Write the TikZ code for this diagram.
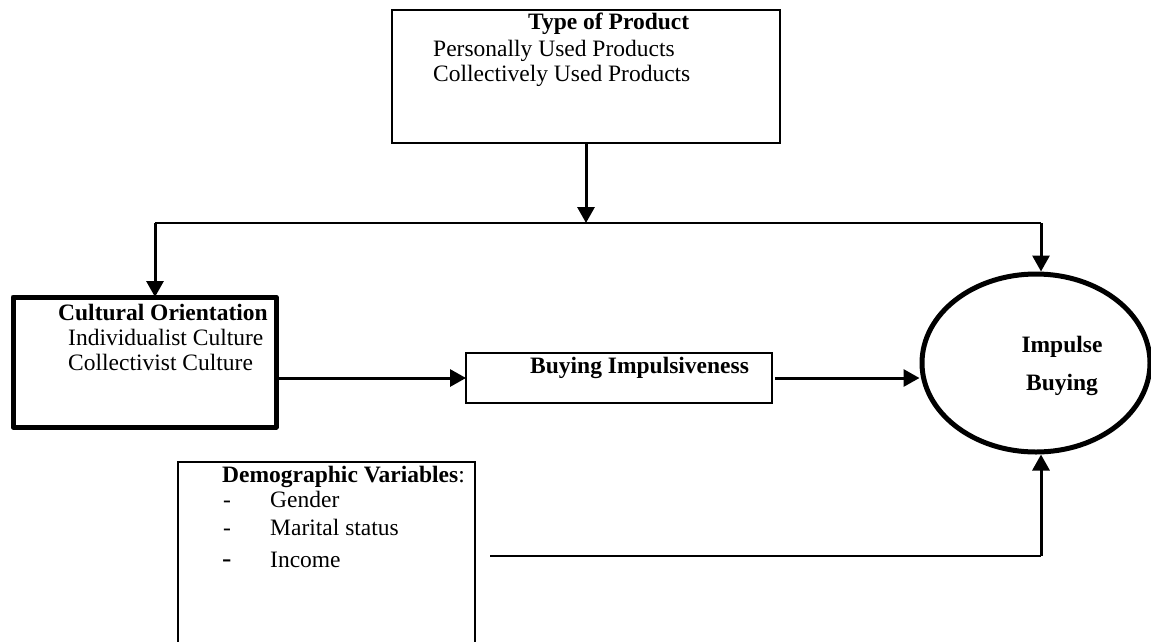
\documentclass[tikz,border=0pt]{standalone}
\usepackage{fontspec}
\setmainfont{Liberation Serif}
\usepackage{tikz}
\usetikzlibrary{shapes.geometric,arrows.meta,calc}

\begin{document}
\begin{tikzpicture}[x=1pt,y=-1pt,
    box/.style={draw,line width=2pt,inner sep=0pt,outer sep=0pt},
    txt/.style={inner sep=0pt,anchor=base west,font=\fontsize{23.5}{26}\selectfont},
    conn/.style={line width=3pt,-{Triangle[length=16pt,width=17pt]}},
    link/.style={line width=2pt}]
     \clip (0,0) rectangle (1151,641);
     % boxes
     \node[box,minimum width=388pt,minimum height=133pt] (prod) at (586,76.5) {};
     \node[box,line width=5pt,line join=round,minimum width=263pt,minimum height=130pt] (cult) at (144.5,362) {};
     \node[box,minimum width=306pt,minimum height=50pt] (bimp) at (619,378) {};
     \node[box,minimum width=297pt,minimum height=200pt] (demo) at (326.5,562) {};
     \node[draw,ellipse,line width=5pt,inner sep=0pt,minimum width=228pt,minimum height=178pt] (imp) at (1036,363) {};
     % texts
     \node[txt] (tprod) at (528,29) {\textbf{Type of Product}};
     \node[txt] (tpers) at (433,56) {Personally Used Products};
     \node[txt] (tcoll) at (433,81) {Collectively Used Products};
     \node[txt] (tcult) at (58,320) {\textbf{Cultural Orientation}};
     \node[txt] (tindv) at (68,345) {Individualist Culture};
     \node[txt] (tclst) at (68,370) {Collectivist Culture};
     \node[txt] (tbimp) at (530,373) {\textbf{Buying Impulsiveness}};
     \node[txt,anchor=base] (timp) at (1062,352) {\textbf{Impulse}};
     \node[txt,anchor=base] (tbuy) at (1062,390) {\textbf{Buying}};
     \node[txt] (tdemo) at (222,482) {\textbf{Demographic Variables}:};
     \node[txt] (dgen) at (223,507) {-};
     \node[txt] (tgen) at (270,507) {Gender};
     \node[txt] (dmar) at (223,535) {-};
     \node[txt] (tmar) at (270,535) {Marital status};
     \node[txt,font=\fontsize{28}{30}\selectfont] (dinc) at (222,567) {-};
     \node[txt] (tinc) at (270,567) {Income};
     % connectors
     \coordinate (split) at (586,223);
     \coordinate (lcorner) at (155,223);
     \coordinate (rcorner) at (1041,223);
     \coordinate (dstart) at (490,556);
     \coordinate (dcorner) at (1041,556);
     \draw[conn] (prod.south) -- (split);
     \draw[link] (lcorner) -- (rcorner);
     \draw[conn] (lcorner) -- (lcorner |- cult.north);
     \draw[conn] (rcorner) -- (rcorner |- imp.north);
     \draw[conn] (cult.east |- bimp.west) -- (bimp.west);
     \draw[conn,shorten <=3pt] (bimp.east) -- (bimp.east -| imp.west);
     \draw[link] (dstart) -- (dcorner);
     \draw[conn] (dcorner) -- (dcorner |- imp.south);
   \end{tikzpicture}
\end{document}
